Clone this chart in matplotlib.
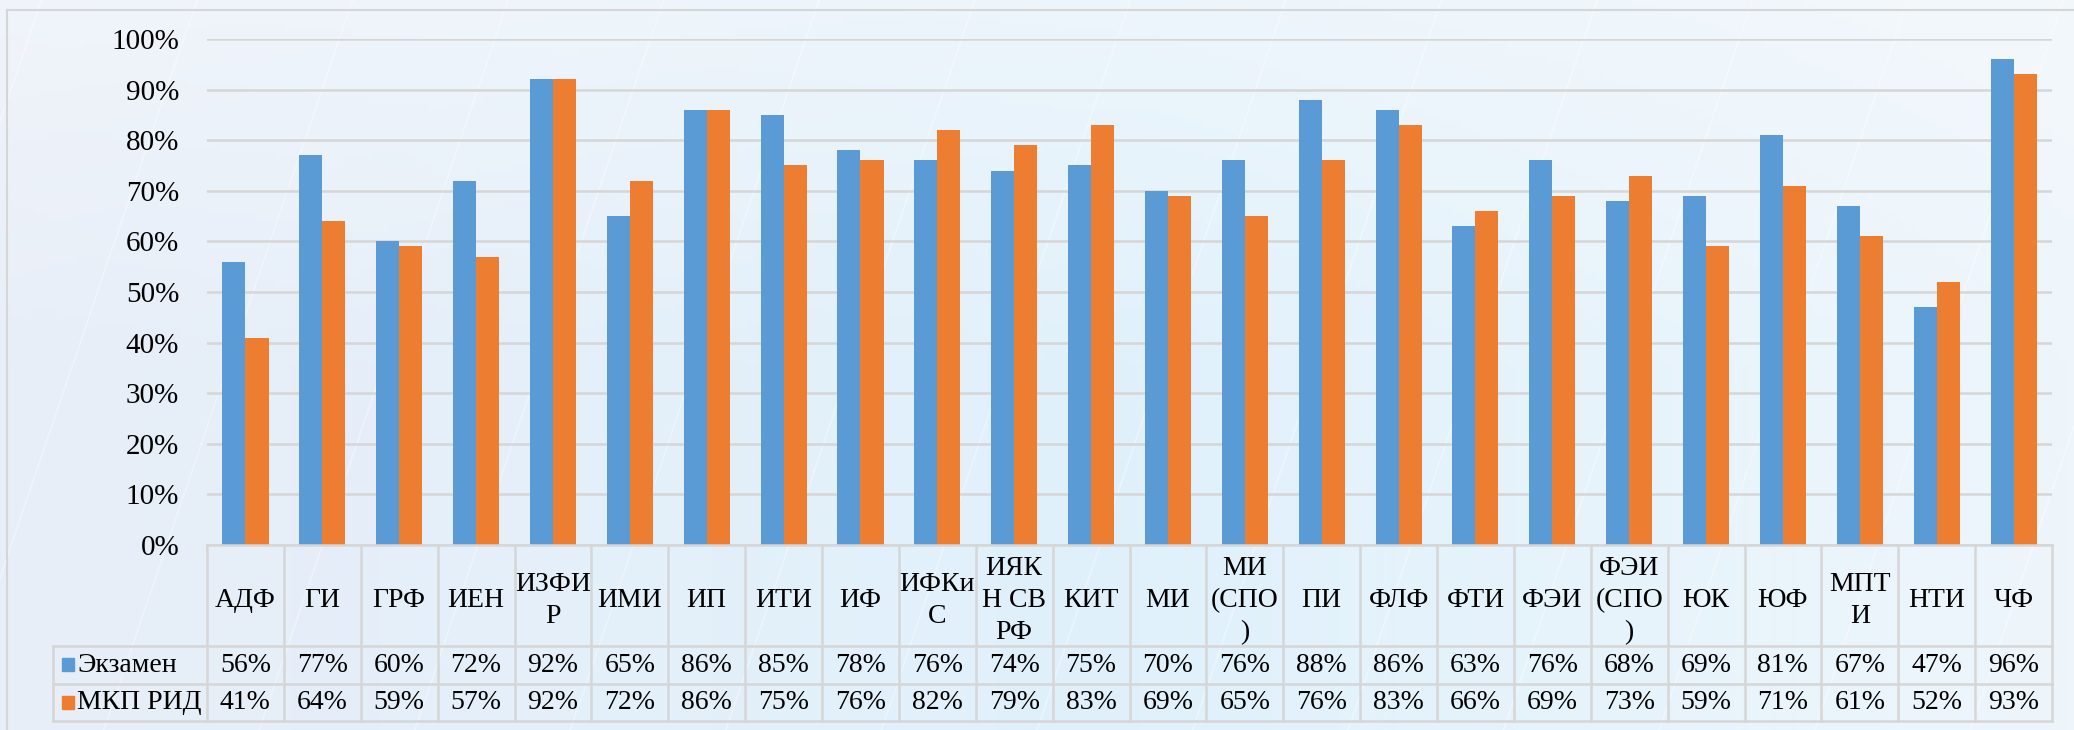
import matplotlib
matplotlib.use('Agg')
import matplotlib.pyplot as plt
import numpy as np
from matplotlib.lines import Line2D
from matplotlib.transforms import blended_transform_factory

# ---------------- data ----------------
categories = ['АДФ', 'ГИ', 'ГРФ', 'ИЕН', 'ИЗФИ\nР', 'ИМИ', 'ИП', 'ИТИ', 'ИФ',
              'ИФКи\nС', 'ИЯК\nН СВ\nРФ', 'КИТ', 'МИ', 'МИ\n(СПО\n)', 'ПИ', 'ФЛФ',
              'ФТИ', 'ФЭИ', 'ФЭИ\n(СПО\n)', 'ЮК', 'ЮФ', 'МПТ\nИ', 'НТИ', 'ЧФ']
exam = [56, 77, 60, 72, 92, 65, 86, 85, 78, 76, 74, 75, 70, 76, 88, 86, 63, 76, 68, 69, 81, 67, 47, 96]
mkp = [41, 64, 59, 57, 92, 72, 86, 75, 76, 82, 79, 83, 69, 65, 76, 83, 66, 69, 73, 59, 71, 61, 52, 93]
series_names = ['Экзамен', 'МКП РИД']
yticks = [0, 10, 20, 30, 40, 50, 60, 70, 80, 90, 100]

# ---------------- style ----------------
plt.rcParams['font.family'] = ['Liberation Serif', 'DejaVu Serif']
C_BLUE = '#5b9bd5'
C_ORANGE = '#ed7d31'
C_GRID = '#d6d6d6'
FS = 20

W, H = 2074, 730
fig = plt.figure(figsize=(W / 100, H / 100), dpi=100)

# background
bg = fig.add_axes([0, 0, 1, 1], zorder=-10)
gx = np.linspace(0, 1, 300)
gy = np.linspace(0, 1, 120)
X, Y = np.meshgrid(gx, gy)
left = np.array([0xe8, 0xee, 0xf8]) / 255
mid = np.array([0xe0, 0xf1, 0xfb]) / 255
right = np.array([0xee, 0xf6, 0xfb]) / 255
wl = np.clip(1 - X / 0.55, 0, 1)[..., None]
wr = np.clip((X - 0.55) / 0.45, 0, 1)[..., None]
wm = 1 - wl - wr
img = wl * left + wm * mid + wr * right
top_light = np.array([0xf7, 0xf9, 0xfc]) / 255
t = np.clip(1 - Y / 0.5, 0, 1)[..., None] * 0.55
img = img * (1 - t) + top_light * t
bg.imshow(img, extent=[0, 1, 0, 1], aspect='auto', origin='upper')
for k in range(18):
    x0 = -0.1 + k * 0.075
    bg.plot([x0, x0 + 0.12], [0, 1], color='white', alpha=0.35, lw=1.2)
bg.set_xlim(0, 1)
bg.set_ylim(0, 1)
bg.axis('off')

# frame border (left & top)
fig.add_artist(Line2D([7 / W, 7 / W], [0, 1 - 10 / H], color=C_GRID, lw=1.5, transform=fig.transFigure))
fig.add_artist(Line2D([7 / W, 1], [1 - 10 / H, 1 - 10 / H], color=C_GRID, lw=1.5, transform=fig.transFigure))

# main axes
px_left, px_right, px_top, px_bottom = 207, 2052, 39, 545
ax = fig.add_axes([px_left / W, 1 - px_bottom / H, (px_right - px_left) / W, (px_bottom - px_top) / H])
ax.patch.set_alpha(0)
n = len(categories)
x = np.arange(n)
bw = 0.3
ax.bar(x - bw / 2, exam, width=bw, color=C_BLUE, zorder=3, label=series_names[0])
ax.bar(x + bw / 2, mkp, width=bw, color=C_ORANGE, zorder=3, label=series_names[1])
ax.set_xlim(-0.5, n - 0.5)
ax.set_ylim(0, 100)
ax.set_yticks(yticks)
ax.set_yticklabels([f'{v}%' for v in yticks], fontsize=FS + 1)
ax.tick_params(axis='y', length=0, pad=20)
ax.set_xticks([])
ax.grid(axis='y', color=C_GRID, lw=1.8, zorder=0)
for s in ax.spines.values():
    s.set_visible(False)

# data table below axes
tr = blended_transform_factory(ax.transData, fig.transFigure)
def fy(p):
    return 1 - p / H

row_top, row1, row2, row3 = 545, 646, 684, 721
leg_left = 53

# horizontal lines
for yp in (row1, row2, row3):
    fig.add_artist(Line2D([leg_left / W, px_right / W], [fy(yp), fy(yp)], color=C_GRID, lw=1.8,
                          transform=fig.transFigure))
fig.add_artist(Line2D([px_left / W, px_right / W], [fy(row_top), fy(row_top)], color=C_GRID, lw=1.8,
                      transform=fig.transFigure))
# vertical lines
for i in range(n + 1):
    fig.add_artist(Line2D([i - 0.5, i - 0.5], [fy(row_top), fy(row3)], color=C_GRID, lw=1.8, transform=tr))
fig.add_artist(Line2D([leg_left / W, leg_left / W], [fy(row1), fy(row3)], color=C_GRID, lw=1.8,
                      transform=fig.transFigure))

# category labels
for i, c in enumerate(categories):
    fig.text(i, fy((row_top + row1) / 2 + 5), c, transform=tr, ha='center', va='center',
             multialignment='center', fontsize=FS, linespacing=1.36)
# values
for vals, yc in ((exam, (row1 + row2) / 2), (mkp, (row2 + row3) / 2)):
    for i, v in enumerate(vals):
        fig.text(i, fy(yc), f'{v}%', transform=tr, ha='center', va='center', fontsize=FS)

# legend keys in the row-header column
for name, col, yc in ((series_names[0], C_BLUE, (row1 + row2) / 2), (series_names[1], C_ORANGE, (row2 + row3) / 2)):
    fig.patches.append(plt.Rectangle((62 / W, fy(yc) - 6 / H), 12 / W, 13 / H, color=col,
                                     transform=fig.transFigure, figure=fig))
    fig.text(77 / W, fy(yc), name, ha='left', va='center', fontsize=FS)

fig.savefig('out.png', dpi=100)
